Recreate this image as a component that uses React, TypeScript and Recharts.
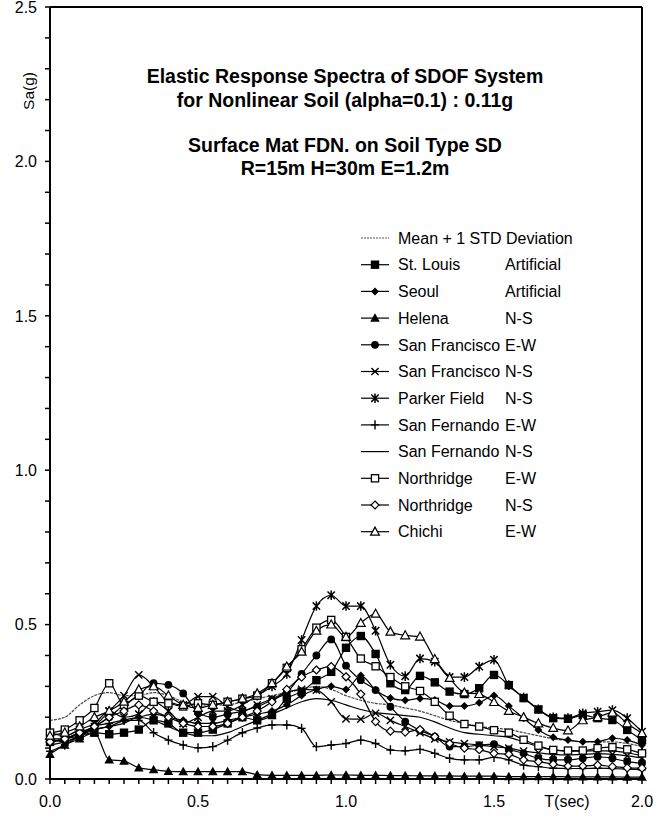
import React from 'react';
import { LineChart, Line, XAxis, YAxis, ReferenceLine } from 'recharts';

const FONT = "'Liberation Sans', Arial, Helvetica, sans-serif";

// periods T (sec), one point every 0.05 s
const periods = [
  0, 0.05, 0.1, 0.15, 0.2, 0.25, 0.3, 0.35, 0.4, 0.45,
  0.5, 0.55, 0.6, 0.65, 0.7, 0.75, 0.8, 0.85, 0.9, 0.95,
  1.0, 1.05, 1.1, 1.15, 1.2, 1.25, 1.3, 1.35, 1.4, 1.45,
  1.5, 1.55, 1.6, 1.65, 1.7, 1.75, 1.8, 1.85, 1.9, 1.95, 2.0,
];

const yTicks = [
  0, 0.1, 0.2, 0.3, 0.4, 0.5, 0.6, 0.7, 0.8, 0.9, 1.0, 1.1, 1.2,
  1.3, 1.4, 1.5, 1.6, 1.7, 1.8, 1.9, 2.0, 2.1, 2.2, 2.3, 2.4, 2.5,
];
const xLabels = [0, 0.5, 1.0, 1.5, 2.0];
const yLabels = [0, 0.5, 1.0, 1.5, 2.0, 2.5];

// Sa(g)
const meanStd = [0.19, 0.2, 0.24, 0.27, 0.28, 0.27, 0.27, 0.28, 0.27, 0.25, 0.24, 0.24, 0.24, 0.25, 0.26, 0.27, 0.28, 0.29, 0.3, 0.29, 0.27, 0.255, 0.245, 0.24, 0.23, 0.22, 0.205, 0.19, 0.18, 0.17, 0.165, 0.16, 0.15, 0.14, 0.13, 0.125, 0.12, 0.12, 0.12, 0.115, 0.105];
const stLouis = [0.12, 0.13, 0.14, 0.15, 0.145, 0.15, 0.16, 0.19, 0.18, 0.15, 0.15, 0.16, 0.18, 0.2, 0.19, 0.207, 0.26, 0.283, 0.32, 0.347, 0.425, 0.463, 0.405, 0.31, 0.288, 0.334, 0.313, 0.283, 0.275, 0.294, 0.337, 0.304, 0.262, 0.225, 0.197, 0.195, 0.207, 0.197, 0.191, 0.159, 0.126];
const seoul = [0.12, 0.13, 0.15, 0.16, 0.17, 0.19, 0.2, 0.21, 0.2, 0.19, 0.18, 0.18, 0.19, 0.2, 0.21, 0.22, 0.24, 0.27, 0.29, 0.3, 0.29, 0.335, 0.288, 0.262, 0.255, 0.261, 0.256, 0.236, 0.236, 0.247, 0.27, 0.236, 0.197, 0.159, 0.135, 0.126, 0.121, 0.121, 0.132, 0.126, 0.11];
const helena = [0.08, 0.11, 0.13, 0.15, 0.062, 0.058, 0.036, 0.03, 0.025, 0.024, 0.024, 0.024, 0.024, 0.024, 0.014, 0.012, 0.012, 0.012, 0.012, 0.013, 0.013, 0.012, 0.012, 0.011, 0.011, 0.01, 0.01, 0.01, 0.009, 0.009, 0.009, 0.008, 0.008, 0.008, 0.008, 0.007, 0.007, 0.007, 0.007, 0.006, 0.006];
const sanFranEW = [0.13, 0.13, 0.15, 0.17, 0.2, 0.24, 0.27, 0.31, 0.305, 0.277, 0.215, 0.2, 0.21, 0.22, 0.234, 0.256, 0.28, 0.34, 0.4, 0.452, 0.367, 0.32, 0.288, 0.234, 0.186, 0.157, 0.137, 0.105, 0.105, 0.11, 0.113, 0.096, 0.083, 0.067, 0.062, 0.062, 0.067, 0.072, 0.067, 0.056, 0.051];
const sanFranNS = [0.13, 0.12, 0.14, 0.17, 0.22, 0.27, 0.337, 0.3, 0.25, 0.24, 0.267, 0.267, 0.234, 0.22, 0.24, 0.26, 0.28, 0.29, 0.288, 0.25, 0.195, 0.194, 0.213, 0.19, 0.17, 0.15, 0.13, 0.12, 0.115, 0.11, 0.105, 0.1, 0.09, 0.085, 0.08, 0.078, 0.08, 0.082, 0.08, 0.075, 0.068];
const parkerNS = [0.15, 0.14, 0.16, 0.18, 0.22, 0.2, 0.21, 0.25, 0.22, 0.18, 0.2, 0.22, 0.22, 0.24, 0.27, 0.3, 0.34, 0.45, 0.56, 0.595, 0.56, 0.56, 0.48, 0.37, 0.333, 0.39, 0.38, 0.33, 0.33, 0.364, 0.386, 0.304, 0.264, 0.226, 0.2, 0.197, 0.213, 0.218, 0.223, 0.197, 0.153];
const sanFernEW = [0.09, 0.11, 0.14, 0.17, 0.18, 0.19, 0.19, 0.15, 0.126, 0.11, 0.101, 0.105, 0.126, 0.15, 0.165, 0.175, 0.175, 0.164, 0.105, 0.11, 0.115, 0.126, 0.115, 0.094, 0.091, 0.096, 0.083, 0.067, 0.062, 0.062, 0.07, 0.062, 0.045, 0.04, 0.035, 0.034, 0.034, 0.035, 0.034, 0.032, 0.03];
const sanFernNS = [0.11, 0.12, 0.14, 0.16, 0.17, 0.18, 0.2, 0.19, 0.17, 0.15, 0.14, 0.14, 0.15, 0.17, 0.19, 0.21, 0.23, 0.25, 0.26, 0.255, 0.24, 0.225, 0.215, 0.21, 0.205, 0.2, 0.185, 0.165, 0.15, 0.145, 0.14, 0.135, 0.12, 0.105, 0.095, 0.09, 0.09, 0.092, 0.09, 0.085, 0.075];
const northEW = [0.15, 0.16, 0.19, 0.23, 0.31, 0.24, 0.27, 0.25, 0.245, 0.235, 0.245, 0.24, 0.25, 0.26, 0.27, 0.31, 0.36, 0.42, 0.49, 0.515, 0.46, 0.39, 0.365, 0.33, 0.3, 0.285, 0.25, 0.205, 0.178, 0.17, 0.158, 0.15, 0.127, 0.108, 0.094, 0.092, 0.092, 0.1, 0.103, 0.096, 0.083];
const northNS = [0.12, 0.13, 0.15, 0.17, 0.2, 0.22, 0.24, 0.22, 0.2, 0.18, 0.17, 0.17, 0.18, 0.2, 0.22, 0.25, 0.29, 0.33, 0.353, 0.364, 0.331, 0.275, 0.186, 0.155, 0.152, 0.16, 0.137, 0.115, 0.1, 0.095, 0.083, 0.08, 0.062, 0.056, 0.048, 0.042, 0.042, 0.045, 0.04, 0.036, 0.035];
const chichiEW = [0.14, 0.15, 0.17, 0.2, 0.22, 0.25, 0.29, 0.3, 0.27, 0.24, 0.23, 0.24, 0.25, 0.26, 0.277, 0.31, 0.364, 0.412, 0.48, 0.5, 0.46, 0.505, 0.535, 0.477, 0.465, 0.461, 0.388, 0.327, 0.28, 0.275, 0.249, 0.22, 0.2, 0.18, 0.165, 0.157, 0.19, 0.2, 0.215, 0.18, 0.148];

type MarkerKind =
  | 'none' | 'square' | 'diamond' | 'triangle' | 'circle' | 'cross'
  | 'star' | 'plus' | 'openSquare' | 'openDiamond' | 'openTriangle';

const series: { key: string; name: string; tag: string; values: number[]; marker: MarkerKind }[] = [
  { key: 'meanStd', name: 'Mean + 1 STD Deviation', tag: '', values: meanStd, marker: 'none' },
  { key: 'stLouis', name: 'St. Louis', tag: 'Artificial', values: stLouis, marker: 'square' },
  { key: 'seoul', name: 'Seoul', tag: 'Artificial', values: seoul, marker: 'diamond' },
  { key: 'helena', name: 'Helena', tag: 'N-S', values: helena, marker: 'triangle' },
  { key: 'sanFranEW', name: 'San Francisco', tag: 'E-W', values: sanFranEW, marker: 'circle' },
  { key: 'sanFranNS', name: 'San Francisco', tag: 'N-S', values: sanFranNS, marker: 'cross' },
  { key: 'parkerNS', name: 'Parker Field', tag: 'N-S', values: parkerNS, marker: 'star' },
  { key: 'sanFernEW', name: 'San Fernando', tag: 'E-W', values: sanFernEW, marker: 'plus' },
  { key: 'sanFernNS', name: 'San Fernando', tag: 'N-S', values: sanFernNS, marker: 'none' },
  { key: 'northEW', name: 'Northridge', tag: 'E-W', values: northEW, marker: 'openSquare' },
  { key: 'northNS', name: 'Northridge', tag: 'N-S', values: northNS, marker: 'openDiamond' },
  { key: 'chichiEW', name: 'Chichi', tag: 'E-W', values: chichiEW, marker: 'openTriangle' },
];

const data = periods.map((t, i) => {
  const row: Record<string, number> = { t };
  series.forEach((s) => { row[s.key] = s.values[i]; });
  return row;
});

function Marker({ kind, x, y }: { kind: MarkerKind; x: number; y: number }) {
  switch (kind) {
    case 'square':
      return <rect x={x - 4.2} y={y - 4.2} width={8.4} height={8.4} fill="#000" />;
    case 'openSquare':
      return <rect x={x - 3.6} y={y - 3.6} width={7.2} height={7.2} fill="#fff" stroke="#000" strokeWidth={1.3} />;
    case 'diamond':
      return <polygon points={`${x},${y - 4} ${x + 4},${y} ${x},${y + 4} ${x - 4},${y}`} fill="#000" />;
    case 'openDiamond':
      return <polygon points={`${x},${y - 4} ${x + 4},${y} ${x},${y + 4} ${x - 4},${y}`} fill="#fff" stroke="#000" strokeWidth={1.2} />;
    case 'triangle':
      return <polygon points={`${x},${y - 4.8} ${x + 4.8},${y + 3.6} ${x - 4.8},${y + 3.6}`} fill="#000" />;
    case 'openTriangle':
      return <polygon points={`${x},${y - 4.6} ${x + 4.4},${y + 3.4} ${x - 4.4},${y + 3.4}`} fill="#fff" stroke="#000" strokeWidth={1.2} />;
    case 'circle':
      return <circle cx={x} cy={y} r={3.9} fill="#000" />;
    case 'cross':
      return <path d={`M${x - 3.6},${y - 3.6}L${x + 3.6},${y + 3.6}M${x + 3.6},${y - 3.6}L${x - 3.6},${y + 3.6}`} stroke="#000" strokeWidth={1.4} />;
    case 'star':
      return <path d={`M${x - 3.7},${y - 3.7}L${x + 3.7},${y + 3.7}M${x + 3.7},${y - 3.7}L${x - 3.7},${y + 3.7}M${x},${y - 4.8}L${x},${y + 4.8}`} stroke="#000" strokeWidth={1.5} />;
    case 'plus':
      return <path d={`M${x - 4},${y}L${x + 4},${y}M${x},${y - 4.6}L${x},${y + 4.6}`} stroke="#000" strokeWidth={1.4} />;
    default:
      return null;
  }
}

const XTick = (props: any) => {
  const { x, y, payload } = props;
  const major = xLabels.some((v) => Math.abs(v - payload.value) < 1e-6);
  if (!major) return <g />;
  return (
    <text x={x} y={y + 21} textAnchor="middle" fontSize={16} fontFamily={FONT} fill="#000">
      {Number(payload.value).toFixed(1)}
    </text>
  );
};

const YTick = (props: any) => {
  const { x, y, payload } = props;
  const major = yLabels.some((v) => Math.abs(v - payload.value) < 1e-6);
  if (!major) return <g />;
  return (
    <text x={x - 6} y={y + 5.7} textAnchor="end" fontSize={16} fontFamily={FONT} fill="#000">
      {Number(payload.value).toFixed(1)}
    </text>
  );
};

const titleLines = [
  'Elastic Response Spectra of SDOF System',
  'for Nonlinear Soil (alpha=0.1) : 0.11g',
  '',
  'Surface Mat FDN. on Soil Type SD',
  'R=15m H=30m E=1.2m',
];

function Titles() {
  const ys = [83, 107, 0, 152, 175];
  return (
    <g>
      {titleLines.map((line, i) =>
        line ? (
          <text key={i} x={345} y={ys[i]} textAnchor="middle" fontSize={19.5} fontWeight="bold" fontFamily={FONT} fill="#000">
            {line}
          </text>
        ) : null,
      )}
    </g>
  );
}

function LegendBox() {
  return (
    <g>
      {series.map((s, i) => {
        const y = 238 + i * 26.7;
        const mean = s.key === 'meanStd';
        return (
          <g key={s.key}>
            <line x1={361} x2={389} y1={y} y2={y} stroke={mean ? '#555' : '#000'} strokeWidth={1.2} strokeDasharray={mean ? '2 1' : undefined} />
            <Marker kind={s.marker} x={375} y={y} />
            <text x={398} y={y + 5.7} fontSize={16} fontFamily={FONT} fill="#000">{s.name}</text>
            {s.tag ? (
              <text x={505} y={y + 5.7} fontSize={16} fontFamily={FONT} fill="#000">{s.tag}</text>
            ) : null}
          </g>
        );
      })}
    </g>
  );
}

export default function App() {
  return (
    <div style={{ position: 'absolute', left: 0, top: 0, width: 669, height: 820, background: '#fff' }}>
      <LineChart width={669} height={820} data={data} margin={{ top: 7, right: 27, bottom: 11, left: 0 }}>
        <XAxis
          type="number"
          dataKey="t"
          domain={[0, 2]}
          ticks={periods}
          interval={0}
          height={30}
          tickSize={5}
          tickMargin={2}
          axisLine={{ stroke: '#000', strokeWidth: 2 }}
          tickLine={{ stroke: '#000', strokeWidth: 1.5 }}
          tick={<XTick />}
        />
        <YAxis
          type="number"
          domain={[0, 2.5]}
          ticks={yTicks}
          interval={0}
          width={50}
          tickSize={5}
          tickMargin={2}
          axisLine={{ stroke: '#000', strokeWidth: 2 }}
          tickLine={{ stroke: '#000', strokeWidth: 1.5 }}
          tick={<YTick />}
        />
        <ReferenceLine y={2.5} stroke="#000" strokeWidth={2} />
        <ReferenceLine x={2} stroke="#000" strokeWidth={2} />
        {series.map((s) => (
          <Line
            key={s.key}
            dataKey={s.key}
            type="monotone"
            stroke={s.key === 'meanStd' ? '#444' : '#000'}
            strokeWidth={1.2}
            strokeDasharray={s.key === 'meanStd' ? '3 1' : undefined}
            isAnimationActive={false}
            activeDot={false}
            dot={
              s.marker === 'none'
                ? false
                : (p: any) => (
                    <g key={`${s.key}-${p.index}`}>
                      <Marker kind={s.marker} x={p.cx} y={p.cy} />
                    </g>
                  )
            }
          />
        ))}
        <Titles />
        <LegendBox />
        <text x={34} y={91} transform="rotate(-90 34 91)" textAnchor="middle" fontSize={15.5} fontFamily={FONT} fill="#000">
          Sa(g)
        </text>
        <text x={567} y={807} textAnchor="middle" fontSize={16} fontFamily={FONT} fill="#000">
          T(sec)
        </text>
      </LineChart>
    </div>
  );
}
